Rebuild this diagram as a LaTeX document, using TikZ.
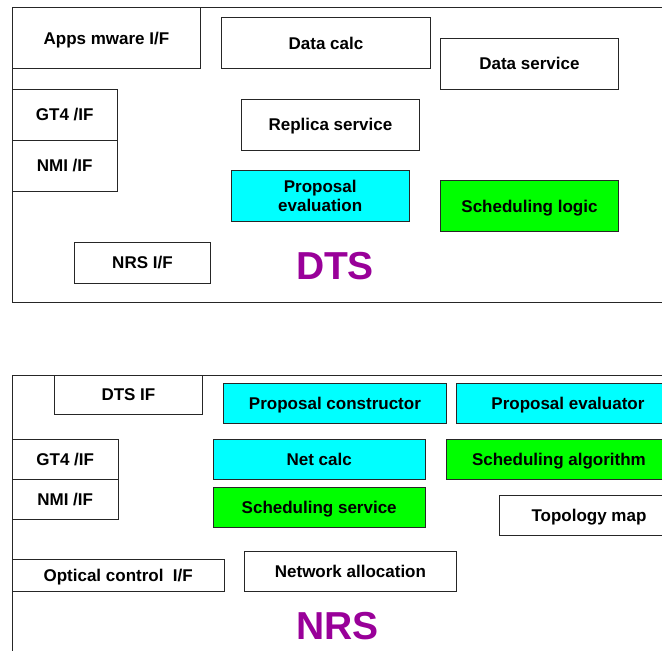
\documentclass[tikz,border=0pt]{standalone}
\usepackage{fontspec}
\setmainfont{Liberation Sans}
\definecolor{boxcyan}{HTML}{00FFFF}
\definecolor{boxgreen}{HTML}{00FF00}
\definecolor{labelpurple}{HTML}{990099}
\begin{document}
\begin{tikzpicture}[x=1pt,y=-1pt,
  frame/.style={draw=black!85, line width=1pt, anchor=north west, inner sep=0pt},
  basebox/.style={draw=black!85, line width=0.9pt, anchor=north west, inner sep=0pt,
    font=\fontsize{17}{19.5}\selectfont\bfseries, align=center, fill=white},
  box/.style={basebox, text height=12.2pt, text depth=0pt},
  cyanbox/.style={box, fill=boxcyan},
  greenbox/.style={box, fill=boxgreen},
  biglabel/.style={font=\fontsize{39}{42}\selectfont\bfseries, text=labelpurple, inner sep=0pt}]
\useasboundingbox (0,0) rectangle (662,651);
\clip (0,0) rectangle (662,651);
\fill[white] (0,0) rectangle (662,651);
% DTS
\node[frame, minimum width=700pt, minimum height=295pt] (dts) at (12,7) {};
\node[box, minimum width=188pt, minimum height=61pt] (apps) at (12,7) {Apps mware I/F};
\node[box, minimum width=209pt, minimum height=51pt] (datacalc) at (221,17) {Data calc};
\node[box, minimum width=178pt, minimum height=51pt] (dataservice) at (440,37.5) {Data service};
\node[box, minimum width=104.5pt, minimum height=51pt] (gtfoura) at (12,88.5) {GT4 /IF};
\node[box, minimum width=104.5pt, minimum height=51pt] (nmia) at (12,139.5) {NMI /IF};
\node[box, minimum width=178pt, minimum height=51pt] (replica) at (241,98.5) {Replica service};
\node[basebox, fill=boxcyan, minimum width=177.5pt, minimum height=51.5pt] (propeval) at (231,169.5) {Proposal\\evaluation};
\node[greenbox, minimum width=178pt, minimum height=51pt] (schedlogic) at (440,180) {Scheduling logic};
\node[box, minimum width=136pt, minimum height=41pt] (nrsif) at (74,241.5) {NRS I/F};
\node[biglabel] (dtslabel) at (335,266) {DTS};
% NRS
\node[frame, minimum width=700pt, minimum height=330pt] (nrs) at (12,374.5) {};
\node[box, minimum width=148pt, minimum height=39.5pt] (dtsif) at (54,374.5) {DTS IF};
\node[cyanbox, minimum width=223pt, minimum height=40pt] (propcons) at (223,382.5) {Proposal constructor};
\node[cyanbox, minimum width=223pt, minimum height=40pt] (propevaluator) at (456,382.5) {Proposal evaluator};
\node[box, minimum width=105.5pt, minimum height=40pt] (gtfourb) at (12,438.5) {GT4 /IF};
\node[box, minimum width=105.5pt, minimum height=40pt] (nmib) at (12,478.5) {NMI /IF};
\node[cyanbox, minimum width=211.5pt, minimum height=40pt] (netcalc) at (213,438.5) {Net calc};
\node[greenbox, minimum width=226pt, minimum height=40pt] (schedalg) at (445.5,438.5) {Scheduling algorithm};
\node[greenbox, minimum width=211.5pt, minimum height=40pt] (schedserv) at (213,486.5) {Scheduling service};
\node[box, minimum width=180pt, minimum height=40pt] (topo) at (498.5,494.5) {Topology map};
\node[box, minimum width=211.5pt, minimum height=32pt] (optical) at (12,558.5) {Optical control~~I/F};
\node[box, minimum width=212pt, minimum height=40pt] (netalloc) at (244,550.5) {Network allocation};
\node[biglabel] (nrslabel) at (337.5,626) {NRS};
\end{tikzpicture}
\end{document}
